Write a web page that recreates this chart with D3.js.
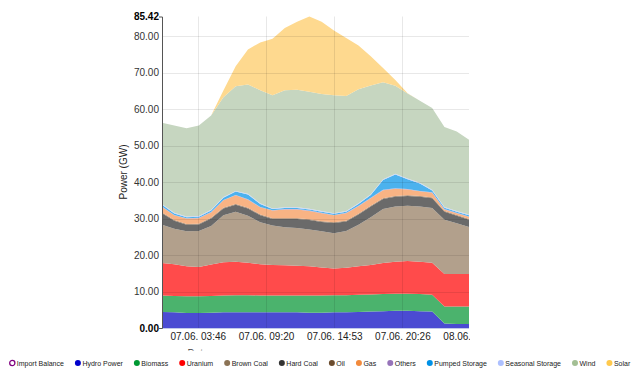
<!DOCTYPE html>
<html>
<head>
<meta charset="utf-8">
<script src="https://cdn.jsdelivr.net/npm/d3@7"></script>
<style>
  body { margin: 0; background: #fff; }
  svg { font-family: "Liberation Sans", Arial, sans-serif; }
</style>
</head>
<body>
<svg id="chart" width="642" height="376"></svg>
<script>
// Hourly samples, 07.06. to 08.06.
const startTime = new Date(2021, 5, 7, 0, 52);
const hourCount = 26;

// Values in GW per source (stacked bottom to top)
const hydro    = [4.4,4.3,4.1,4.1,4.2,4.3,4.3,4.3,4.3,4.3,4.3,4.3,4.2,4.2,4.3,4.3,4.4,4.5,4.6,4.7,4.7,4.6,4.5,1.2,1.1,1.1];
const biomass  = [4.5,4.5,4.6,4.6,4.6,4.6,4.7,4.7,4.6,4.6,4.6,4.6,4.7,4.7,4.7,4.7,4.7,4.7,4.7,4.7,4.7,4.7,4.6,4.7,4.8,4.8];
const uranium  = [8.9,8.7,8.2,8.0,8.6,9.1,9.2,8.9,8.6,8.4,8.3,8.2,8.0,7.7,7.3,7.5,7.8,8.1,8.5,8.8,9.0,8.9,8.8,8.9,8.9,8.9];
const brownCoal= [10.5,9.7,9.6,9.9,10.6,12.9,13.7,12.9,11.5,10.8,10.4,10.3,10.1,9.9,9.7,10.1,11.4,13.1,14.8,15.1,15.1,15.1,15.0,14.9,13.9,12.9];
const hardCoal = [3.2,2.2,1.8,1.8,2.0,1.9,1.9,2.0,1.9,1.8,2.3,2.5,2.6,2.6,2.8,2.6,2.8,2.9,2.8,2.7,2.7,2.7,2.7,2.2,2.1,2.0];
const oil      = [0.2,0.2,0.2,0.2,0.2,0.2,0.2,0.2,0.2,0.2,0.2,0.2,0.2,0.2,0.2,0.2,0.2,0.2,0.2,0.2,0.2,0.2,0.2,0.2,0.2,0.2];
const gas      = [1.5,1.3,1.5,1.5,1.5,2.0,2.4,2.2,2.0,2.1,2.4,2.4,2.3,2.2,1.9,2.1,2.1,2.1,2.2,2.0,1.6,1.3,1.3,0.4,0.5,0.6];
const others   = [0.1,0.1,0.1,0.1,0.1,0.1,0.1,0.1,0.1,0.1,0.1,0.1,0.1,0.1,0.1,0.1,0.1,0.1,0.1,0.1,0.1,0.1,0.1,0.1,0.1,0.1];
const pumped   = [0.5,0.4,0.3,0.3,0.4,0.6,0.9,1.3,0.8,0.3,0.3,0.3,0.3,0.3,0.3,0.3,0.5,0.8,2.7,3.8,2.7,2.0,0.5,0.4,0.3,0.3];
const seasonal = [0.2,0.2,0.2,0.2,0.2,0.2,0.2,0.2,0.2,0.2,0.2,0.2,0.2,0.2,0.2,0.2,0.2,0.2,0.2,0.2,0.2,0.2,0.2,0.2,0.2,0.2];
const wind     = [22.3,23.9,24.2,24.8,25.9,27.4,28.7,30.0,31.0,31.0,32.1,32.2,32.1,32.1,32.3,31.5,31.3,29.8,26.6,24.1,23.3,22.5,22.4,21.9,21.8,20.5];
const solar    = [0,0,0,0,0,1.8,5.5,9.6,13.1,15.5,17.1,18.7,20.62,19.8,17.8,15.9,12.0,8.0,3.9,1.6,0.1,0,0,0,0,0];

const yTickValues = [0, 10, 20, 30, 40, 50, 60, 70, 80];
const xTickTimes = [
  new Date(2021, 5, 7, 3, 46, 40),
  new Date(2021, 5, 7, 9, 20, 0),
  new Date(2021, 5, 7, 14, 53, 20),
  new Date(2021, 5, 7, 20, 26, 40),
  new Date(2021, 5, 8, 2, 0, 0)
];

const legendNames = ['Import Balance','Hydro Power','Biomass','Uranium','Brown Coal','Hard Coal','Oil','Gas','Others','Pumped Storage','Seasonal Storage','Wind','Solar'];
const legendColors = ['#800080','#0000cc','#009933','#ff0000','#8b7355','#333333','#6b4c2e','#f28a3c','#9673b9','#0091e6','#adc0ff','#a3bf94','#ffc94d'];

const seriesKeys = ['hydro','biomass','uranium','brownCoal','hardCoal','oil','gas','others','pumped','seasonal','wind','solar'];
const seriesData = { hydro, biomass, uranium, brownCoal, hardCoal, oil, gas, others, pumped, seasonal, wind, solar };
const areaColors = {
  hydro: '#4b4bd2', biomass: '#4bb36d', uranium: '#ff4b4b', brownCoal: '#b2a08c',
  hardCoal: '#6a6a6a', oil: '#8f7862', gas: '#f8b384', others: '#b59fd0',
  pumped: '#4cb2ee', seasonal: '#c5d3ff', wind: '#c6d6c0', solar: '#fed98f'
};

// Build rows for the stack
const rows = d3.range(hourCount).map(i => {
  const row = { time: d3.timeHour.offset(startTime, i) };
  seriesKeys.forEach(k => { row[k] = seriesData[k][i]; });
  return row;
});

const svg = d3.select('#chart');
const margin = { top: 16.5, right: 173, bottom: 48, left: 162 };
const width = 642, height = 376;

const stacked = d3.stack().keys(seriesKeys)(rows);
const yMax = d3.max(rows, r => d3.sum(seriesKeys, k => r[k]));

const xScale = d3.scaleTime()
  .domain(d3.extent(rows, r => r.time))
  .range([margin.left, width - margin.right]);

const yScale = d3.scaleLinear()
  .domain([0, yMax])
  .range([height - margin.bottom, margin.top]);

// Areas
const area = d3.area()
  .x(d => xScale(d.data.time))
  .y0(d => yScale(d[0]))
  .y1(d => yScale(d[1]));

svg.append('g')
  .selectAll('path')
  .data(stacked)
  .join('path')
  .attr('d', area)
  .attr('fill', d => areaColors[d.key]);

// Grid on top, faint so it shows through the areas
const grid = svg.append('g').attr('stroke', 'rgba(0,0,0,0.09)').attr('stroke-width', 1);
grid.selectAll('.h')
  .data(yTickValues.slice(1))
  .join('line')
  .attr('x1', margin.left).attr('x2', width - margin.right)
  .attr('y1', d => Math.round(yScale(d)) + 0.5).attr('y2', d => Math.round(yScale(d)) + 0.5);
grid.selectAll('.v')
  .data(xTickTimes.slice(0, 4))
  .join('line')
  .attr('x1', d => Math.round(xScale(d)) + 0.5).attr('x2', d => Math.round(xScale(d)) + 0.5)
  .attr('y1', margin.top).attr('y2', height - margin.bottom);

// X axis
svg.append('clipPath').attr('id', 'xclip')
  .append('rect').attr('x', 0).attr('y', 0).attr('width', width - margin.right + 1).attr('height', height);

svg.append('line')
  .attr('x1', margin.left).attr('x2', width - margin.right)
  .attr('y1', height - margin.bottom + 0.5).attr('y2', height - margin.bottom + 0.5)
  .attr('stroke', '#c3c8ea');

const xAxis = svg.append('g')
  .attr('clip-path', 'url(#xclip)')
  .attr('transform', `translate(0, ${height - margin.bottom})`)
  .call(d3.axisBottom(xScale)
    .tickValues(xTickTimes)
    .tickFormat(d3.timeFormat('%d.%m. %H:%M'))
    .tickSize(0)
    .tickPadding(5));
xAxis.select('.domain').remove();
xAxis.selectAll('text').attr('font-size', 10).attr('fill', '#222').attr('font-family', '"Liberation Sans", Arial, sans-serif');

// Y axis
const yAxis = svg.append('g')
  .attr('transform', `translate(${margin.left}, 0)`)
  .call(d3.axisLeft(yScale)
    .tickValues(yTickValues.concat([yMax]))
    .tickFormat(d3.format('.2f'))
    .tickSizeInner(0)
    .tickSizeOuter(3)
    .tickPadding(3));
yAxis.select('.domain').attr('stroke', '#555');
yAxis.selectAll('text')
  .attr('font-size', 10)
  .attr('font-family', '"Liberation Sans", Arial, sans-serif')
  .attr('fill', d => (d === 0 || d === yMax) ? '#000' : '#333')
  .attr('font-weight', d => (d === 0 || d === yMax) ? 'bold' : 'normal');

// x axis title, mostly hidden behind the legend band as in the original
svg.append('clipPath').attr('id', 'dateclip')
  .append('rect').attr('x', 150).attr('y', 347.5).attr('width', 100).attr('height', 3);
svg.append('text')
  .attr('clip-path', 'url(#dateclip)')
  .attr('x', 198).attr('y', 357)
  .attr('text-anchor', 'middle').attr('font-size', 10).attr('fill', '#444')
  .text('Date');

// Y axis title
svg.append('text')
  .attr('transform', `translate(127, 172) rotate(-90)`)
  .attr('text-anchor', 'middle')
  .attr('font-size', 10)
  .attr('fill', '#222')
  .text('Power (GW)');

// Legend
const legend = svg.append('g').attr('transform', 'translate(0, 363)');
let cursor = 12.3;
legendNames.forEach((name, i) => {
  const item = legend.append('g');
  const hollow = i === 0;
  item.append('circle')
    .attr('cx', cursor).attr('cy', 0).attr('r', hollow ? 2.6 : 3)
    .attr('fill', hollow ? '#fff' : legendColors[i])
    .attr('stroke', hollow ? legendColors[i] : 'none')
    .attr('stroke-width', hollow ? 1.3 : 0);
  const label = item.append('text')
    .attr('x', cursor + 4.5).attr('y', 2.5)
    .attr('font-size', 7)
    .attr('fill', '#222')
    .text(name);
  cursor += 4.5 + label.node().getComputedTextLength() + 14;
});
</script>
</body>
</html>
